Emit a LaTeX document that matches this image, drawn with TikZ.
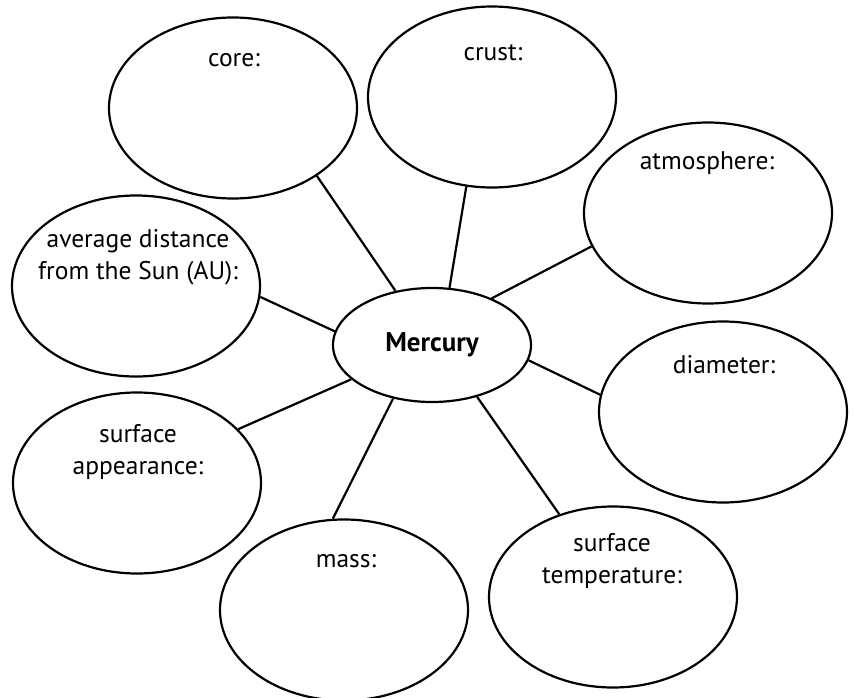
\documentclass[tikz,border=0pt]{standalone}
\usepackage{fontspec}
\setmainfont{PT Sans}
\usetikzlibrary{shapes.geometric}
\begin{document}
\begin{tikzpicture}[x=1pt,y=-1pt,
  bubble/.style={draw=black,line width=2.2pt,ellipse,inner sep=0pt,minimum width=248pt,minimum height=181pt},
  hub/.style={draw=black,line width=2.2pt,ellipse,inner sep=0pt,minimum width=198pt,minimum height=114pt,font=\fontsize{27}{32}\selectfont\bfseries},
  lbl/.style={font=\fontsize{25.5}{32}\selectfont,align=center,inner sep=0pt},
  link/.style={line width=2.2pt}]
\useasboundingbox (0,0) rectangle (855,698);
\node[hub] (merc) at (432,345) {Mercury};
\node[bubble] (core) at (233,108) {};
\node[bubble] (crust) at (492,97) {};
\node[bubble] (atm) at (708,213) {};
\node[bubble] (avg) at (136,286) {};
\node[bubble] (diam) at (723,412) {};
\node[bubble] (surf) at (137,483) {};
\node[bubble] (mass) at (344,610) {};
\node[bubble] (temp) at (613,597) {};
\node[lbl] (tcore) at (234,60) {core:};
\node[lbl] (tcrust) at (493,53) {crust:};
\node[lbl] (tatm) at (707,163) {atmosphere:};
\node[lbl] (tavg) at (138,257) {average distance\\from the Sun (AU):};
\node[lbl] (tdiam) at (724,365) {diameter:};
\node[lbl] (tsurf) at (138,452) {surface\\appearance:};
\node[lbl] (tmass) at (346,561) {mass:};
\node[lbl] (ttemp) at (612,561) {surface\\temperature:};
\draw[link] (core.-39.7) -- (merc.124.2);
\draw[link] (crust.254.1) -- (merc.73.7);
\draw[link] (atm.196.2) -- (merc.38.2);
\draw[link] (diam.172.5) -- (merc.-9.6);
\draw[link] (temp.123.5) -- (merc.-49.1);
\draw[link] (mass.97.1) -- (merc.234.7);
\draw[link] (surf.28.3) -- (merc.203.9);
\draw[link] (avg.-5.5) -- (merc.172.4);
\end{tikzpicture}
\end{document}
